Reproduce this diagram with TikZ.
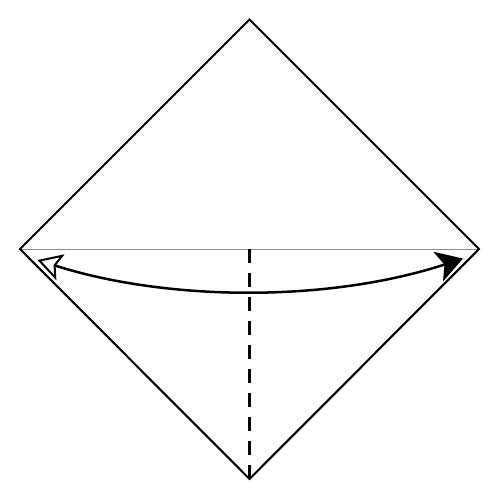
\documentclass[tikz,border=0pt]{standalone}
\usetikzlibrary{arrows.meta}
\begin{document}
\begin{tikzpicture}[x=1pt,y=-1pt,
  edge/.style={line width=2.1pt,black,line join=miter},
  crease/.style={line width=1pt,black!45},
  valley/.style={line width=2.7pt,black,dash pattern=on 14pt off 10pt},
  foldarrow/.style={line width=2.5pt,black}]
\useasboundingbox (0,0) rectangle (500,500);
\coordinate (T) at (249.5,19.5);
\coordinate (L) at (20,249);
\coordinate (R) at (479,249);
\coordinate (B) at (249.5,479);
\coordinate (C) at (249.5,249);
\coordinate (AL) at (37.5,260);
\coordinate (AR) at (463,258.5);
\draw[crease] (L) -- (R);
\draw[valley] (C) -- (B);
\draw[edge] (T) -- (R) -- (B) -- (L) -- cycle;
\draw[foldarrow,
  {Stealth[open,fill=white,length=24pt,width=27pt,inset=5pt,line width=2pt]}-{Stealth[length=26pt,width=31pt,inset=6.5pt]}]
  (AL) .. controls (170,302) and (330,302) .. (AR);
\end{tikzpicture}
\end{document}
